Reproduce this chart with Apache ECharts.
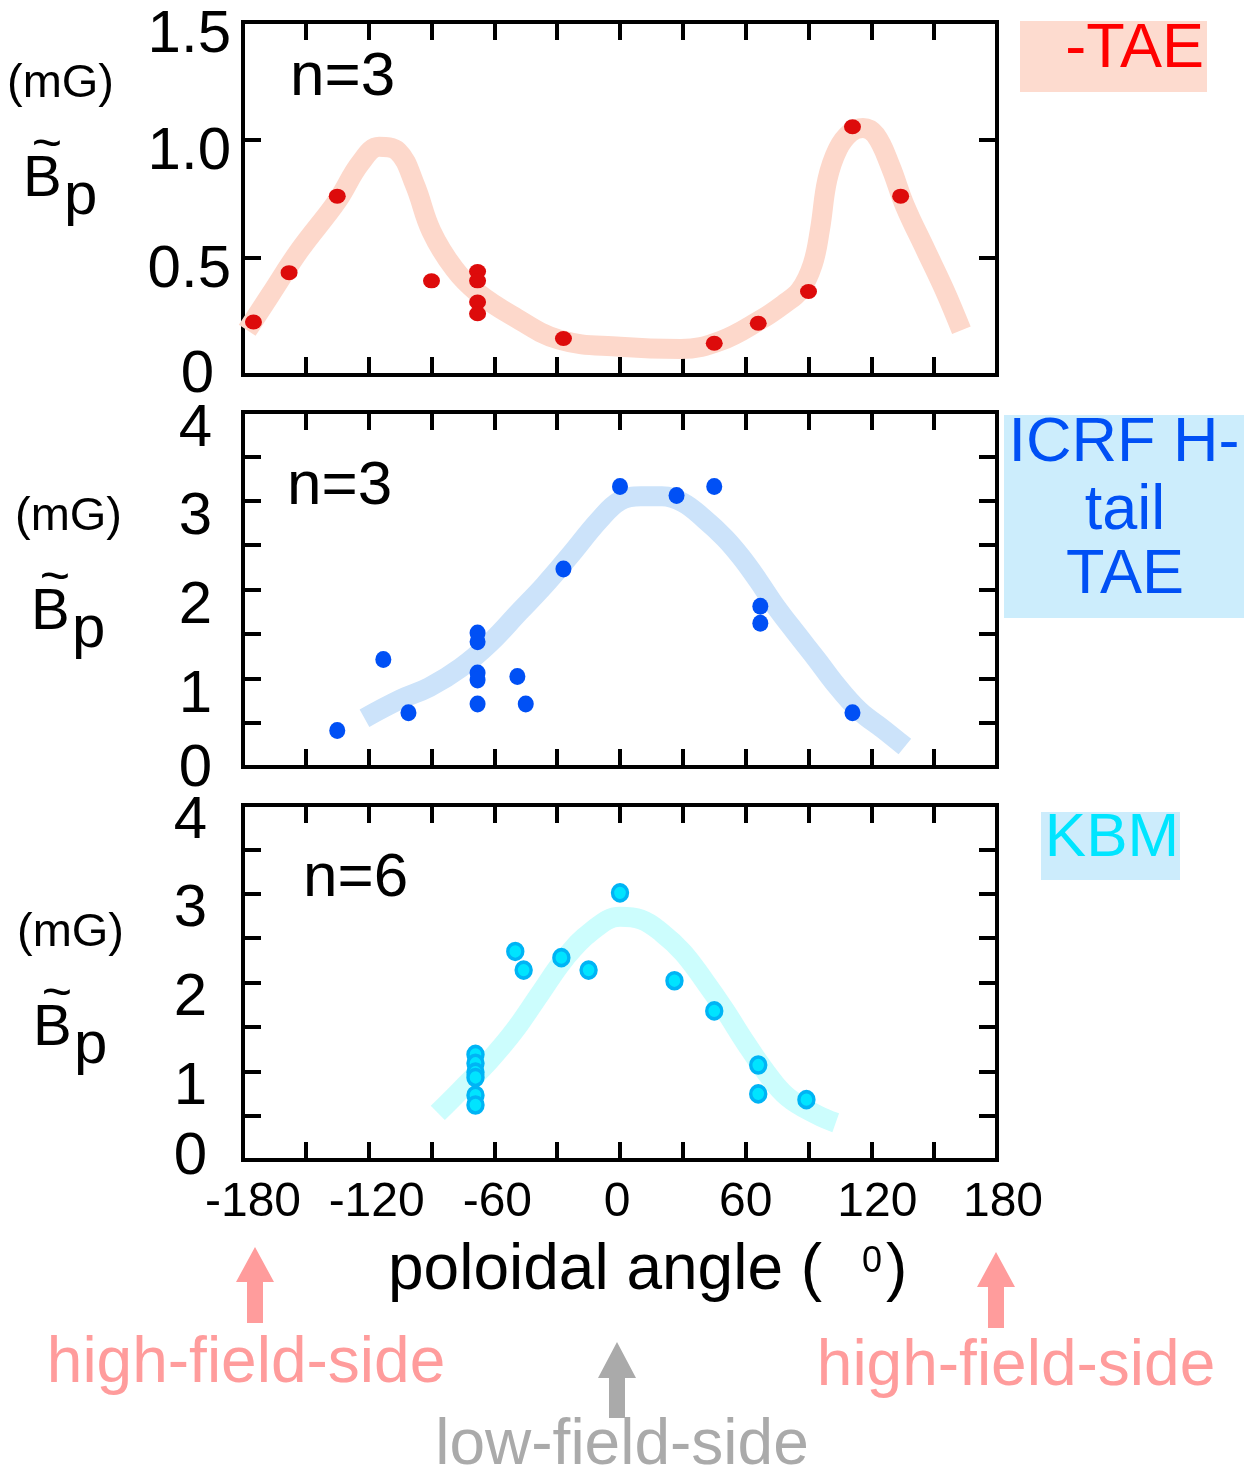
<!DOCTYPE html>
<html><head><meta charset="utf-8">
<script src="https://cdn.jsdelivr.net/npm/echarts@6/dist/echarts.min.js"></script>
<style>html,body{margin:0;padding:0;background:#fff}#c{width:1249px;height:1472px}</style>
</head><body><div id="c"></div>
<script>
// ---- tick labels ----
const xTickVals = [-180, -120, -60, 0, 60, 120, 180];
const xTickText = ['-180', '-120', '-60', '0', '60', '120', '180'];
const yTickVals1 = [0, 0.5, 1.0, 1.5];
const yTickText1 = ['0', '0.5', '1.0', '1.5'];
const yTickVals2 = [0, 1, 2, 3, 4];
const yTickText2 = ['0', '1', '2', '3', '4'];

// ---- panel 1: TAE (n=3) ----
const taeX = [-175, -158, -135, -90, -68, -68, -68, -68, -27, 45, 66, 90, 111, 134];
const taeY = [0.225, 0.435, 0.76, 0.40, 0.44, 0.40, 0.31, 0.26, 0.155, 0.135, 0.22, 0.355, 1.055, 0.76];
const taeCurveX = [-178, -167, -153, -135, -124, -115, -106, -98, -90, -79, -68, -52, -29, 0, 29, 48, 67, 78, 86, 92, 95.5, 99, 104, 110, 116, 122, 129, 136, 146, 155, 163];
const taeCurveY = [0.19, 0.34, 0.53, 0.74, 0.90, 0.97, 0.95, 0.81, 0.61, 0.45, 0.35, 0.255, 0.15, 0.12, 0.11, 0.145, 0.234, 0.30, 0.36, 0.47, 0.62, 0.83, 0.96, 1.03, 1.05, 1.02, 0.89, 0.72, 0.53, 0.36, 0.19];

// ---- panel 2: ICRF H-tail TAE (n=3) ----
const icrfX = [-135, -113, -101, -68, -68, -68, -68, -68, -49, -45, -27, 0, 27, 45, 67, 67, 111];
const icrfY = [0.41, 1.21, 0.61, 1.51, 1.41, 1.06, 0.98, 0.71, 1.02, 0.71, 2.23, 3.16, 3.06, 3.16, 1.81, 1.62, 0.61];
const icrfCurveX = [-122, -105, -91, -76, -62, -48, -36, -24, -10, 0, 10, 20, 30, 40, 50, 58, 66, 74, 84, 94, 102, 114, 126, 136];
const icrfCurveY = [0.55, 0.76, 0.90, 1.12, 1.40, 1.75, 2.05, 2.38, 2.78, 3.00, 3.05, 3.05, 2.98, 2.80, 2.58, 2.36, 2.10, 1.82, 1.51, 1.21, 0.96, 0.64, 0.42, 0.23];

// ---- panel 3: KBM (n=6) ----
const kbmX = [-69, -69, -69, -69, -69, -69, -50, -46, -28, -15, 0, 26, 45, 66, 66, 89];
const kbmY = [1.19, 1.09, 0.99, 0.93, 0.73, 0.62, 2.35, 2.14, 2.28, 2.14, 3.01, 2.02, 1.68, 1.07, 0.745, 0.68];
const kbmCurveX = [-87, -76, -62, -50, -38, -26, -14, 0, 10, 20, 30, 40, 50, 60, 70, 80, 94, 103];
const kbmCurveY = [0.53, 0.79, 1.13, 1.47, 1.88, 2.28, 2.57, 2.74, 2.71, 2.56, 2.34, 2.03, 1.69, 1.32, 0.98, 0.71, 0.51, 0.42];

const FONT = "'Liberation Sans', Arial, Helvetica, sans-serif";
const zip = (a, b) => a.map((v, i) => [v, b[i]]);

const GL = 243, GW = 754;
const grids = [
  { left: GL, top: 22, width: GW, height: 353 },
  { left: GL, top: 412, width: GW, height: 355 },
  { left: GL, top: 805, width: GW, height: 355 }
].map(g => Object.assign(g, { show: true, borderColor: '#000', borderWidth: 4, backgroundColor: 'transparent' }));

// small horizontal nudges of the x tick labels (rich styles), as in the original figure
const xRich = {};
const xNudge = [10, 8, 3, -3, 0, 6, 6];
xNudge.forEach((n, i) => {
  xRich['x' + i] = { fontSize: 48, fontFamily: FONT, color: '#000', padding: n >= 0 ? [0, 0, 0, 2 * n] : [0, -2 * n, 0, 0] };
});

const lineSty = { color: '#000', width: 4 };
function xAxes(gi, labels) {
  const base = {
    gridIndex: gi, type: 'value', min: -180, max: 180, interval: 30,
    axisLine: { show: true, onZero: false, lineStyle: lineSty },
    axisTick: { show: true, inside: true, length: 18, lineStyle: lineSty },
    splitLine: { show: false }
  };
  return [
    Object.assign({}, base, {
      position: 'bottom',
      axisLabel: {
        show: labels, margin: 19, fontSize: 48, fontFamily: FONT, color: '#000',
        formatter: v => { const i = xTickVals.indexOf(v); return i < 0 ? '' : '{x' + i + '|' + xTickText[i] + '}'; },
        rich: xRich
      }
    }),
    Object.assign({}, base, { position: 'top', axisLabel: { show: false } })
  ];
}
function yAxes(gi, max, vals, texts, margin, padD, padZ) {
  const base = {
    gridIndex: gi, type: 'value', min: 0, max: max, interval: 0.5,
    axisLine: { show: true, onZero: false, lineStyle: lineSty },
    axisTick: { show: true, inside: true, length: 18, lineStyle: lineSty },
    splitLine: { show: false }
  };
  return [
    Object.assign({}, base, {
      position: 'left',
      axisLabel: {
        show: true, margin: margin, fontSize: 60, fontFamily: FONT, color: '#000',
        formatter: v => {
          const i = vals.indexOf(v);
          if (i < 0) return '';
          return (v === 0 ? '{z|' : '{d|') + texts[i] + '}';
        },
        rich: {
          d: { fontSize: 60, fontFamily: FONT, color: '#000', padding: padD },
          z: { fontSize: 60, fontFamily: FONT, color: '#000', padding: padZ }
        }
      }
    }),
    Object.assign({}, base, { position: 'right', axisLabel: { show: false } })
  ];
}

const xAxis = [].concat(xAxes(0, false), xAxes(1, false), xAxes(2, true));
const yAxis = [].concat(
  yAxes(0, 1.5, yTickVals1, yTickText1, 12, [26, 0, 0, 0], [0, 17, 0, 0]),
  yAxes(1, 4, yTickVals2, yTickText2, 31, [34, 0, 0, 0], [4, 0, 0, 0]),
  yAxes(2, 4, yTickVals2, yTickText2, 36, [32, 0, 0, 0], [0, 0, 6, 0])
);

function curve(gi, xs, ys, color) {
  return {
    type: 'line', xAxisIndex: gi * 2, yAxisIndex: gi * 2, data: zip(xs, ys),
    smooth: 0.4, symbol: 'none', z: 2, silent: true,
    lineStyle: { color: color, width: 20, cap: 'butt', join: 'round' }
  };
}
function dots(gi, xs, ys, size, style) {
  return {
    type: 'scatter', xAxisIndex: gi * 2, yAxisIndex: gi * 2, data: zip(xs, ys),
    symbol: 'circle', symbolSize: size, z: 5, itemStyle: style
  };
}

const series = [
  curve(0, taeCurveX, taeCurveY, '#fdd8cb'),
  dots(0, taeX, taeY, [17, 15], { color: '#dd0b0b', opacity: 1 }),
  curve(1, icrfCurveX, icrfCurveY, '#cce3fa'),
  dots(1, icrfX, icrfY, [16, 17], { color: '#0050f5', opacity: 1 }),
  curve(2, kbmCurveX, kbmCurveY, '#ccfdfd'),
  dots(2, kbmX, kbmY, [15, 16], { color: '#00e4ff', borderColor: '#00b4f5', borderWidth: 3.5, opacity: 1 })
];

// ---- annotations ----
function txt(text, x, y, fs, color, align) {
  return { type: 'text', x: x, y: y, z: 10, silent: true,
    style: { text: text, fontSize: fs, fontFamily: FONT, fill: color || '#000', align: align || 'left', verticalAlign: 'middle' } };
}
function ylab(dx, dy) {
  return [
    txt('(mG)', 7 + dx, 84 + dy, 47),
    txt('~', 47 + dx, 146 + dy, 52, '#000', 'center'),
    txt('B', 23 + dx, 180 + dy, 58),
    txt('p', 64 + dx, 197 + dy, 60)
  ];
}
function arrow(cx, tip, base, bottom, color) {
  return { type: 'polygon', z: 10, silent: true,
    shape: { points: [[cx, tip], [cx + 19, base], [cx + 8, base], [cx + 8, bottom], [cx - 8, bottom], [cx - 8, base], [cx - 19, base]] },
    style: { fill: color } };
}

const graphic = [].concat(
  ylab(0, 0), ylab(8, 433), ylab(10, 849),
  [
    txt('n=3', 290, 78, 62),
    txt('n=3', 287, 487, 62),
    txt('n=6', 303, 879, 62),
    { type: 'rect', z: 1, silent: true, shape: { x: 1020, y: 21, width: 187, height: 71 }, style: { fill: '#fddbcf' } },
    txt('-TAE', 1204, 50, 63, '#ff0000', 'right'),
    { type: 'rect', z: 1, silent: true, shape: { x: 1004, y: 415, width: 240, height: 203 }, style: { fill: '#ccedfc' } },
    txt('ICRF H-', 1124, 444, 63, '#0050f5', 'center'),
    txt('tail', 1125, 512, 63, '#0050f5', 'center'),
    txt('TAE', 1125, 576, 63, '#0050f5', 'center'),
    { type: 'rect', z: 1, silent: true, shape: { x: 1041, y: 812, width: 139, height: 68 }, style: { fill: '#ccecfc' } },
    txt('KBM', 1112, 839, 62, '#00e5ff', 'center'),
    txt('poloidal angle (', 388, 1271, 64),
    txt('0', 862, 1262, 36),
    txt(')', 886, 1271, 64),
    arrow(255, 1247, 1282, 1323, '#ff9c9c'),
    arrow(996, 1252, 1287, 1328, '#ff9c9c'),
    arrow(617, 1342, 1378, 1418, '#aaaaaa'),
    txt('high-field-side', 246, 1364, 64, '#ff9c9c', 'center'),
    txt('high-field-side', 1016, 1367, 64, '#ff9c9c', 'center'),
    txt('low-field-side', 622, 1446, 64, '#aaaaaa', 'center')
  ]
);

const chart = echarts.init(document.getElementById('c'), null, { renderer: 'canvas' });
chart.setOption({
  animation: false,
  backgroundColor: '#fff',
  grid: grids,
  xAxis: xAxis,
  yAxis: yAxis,
  series: series,
  graphic: graphic
});
</script>
</body></html>
